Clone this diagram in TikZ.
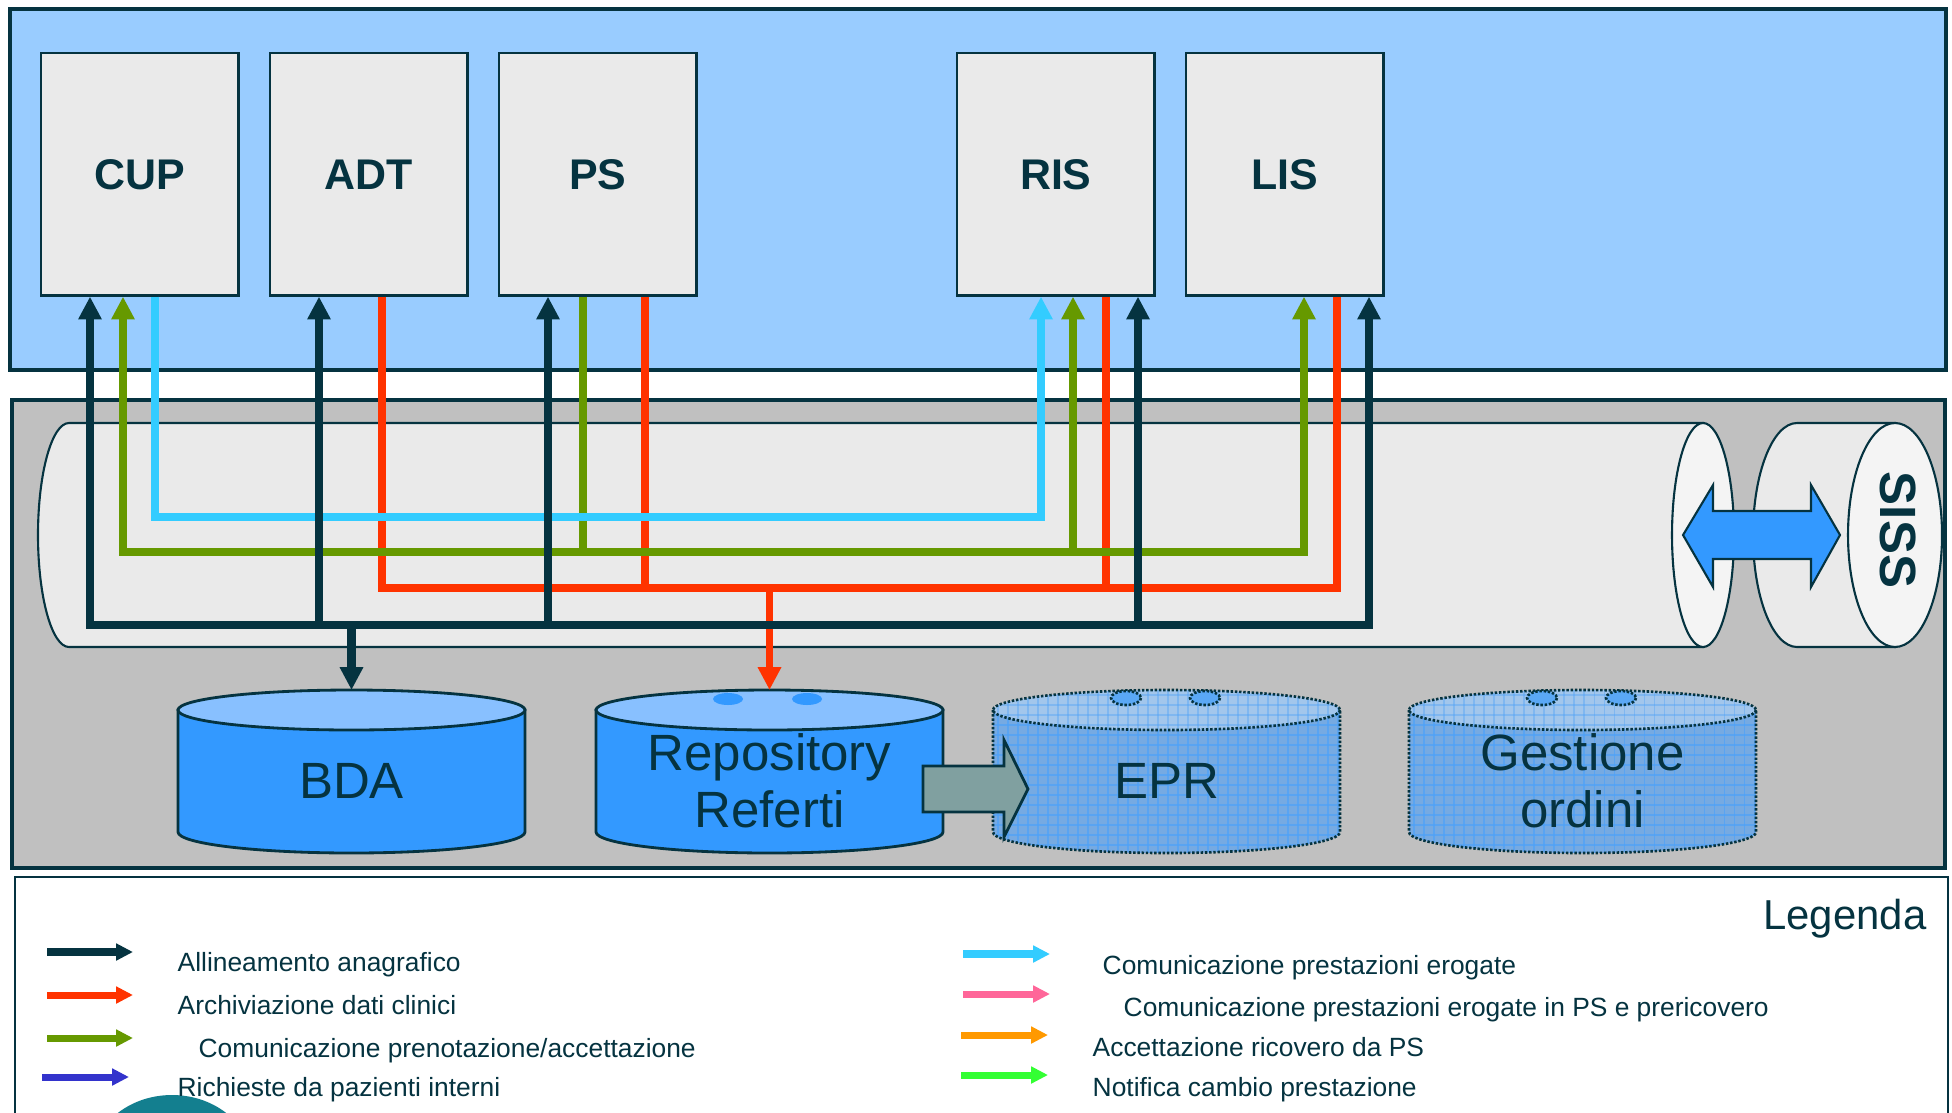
\documentclass[tikz,border=0pt]{standalone}
\usepackage{fontspec}
\setmainfont{Liberation Sans}
\usetikzlibrary{arrows.meta,calc}

\definecolor{ink}{HTML}{053340}
\definecolor{panelblue}{HTML}{99CCFF}
\definecolor{boxgray}{HTML}{EAEAEA}
\definecolor{panelgray}{HTML}{C0C0C0}
\definecolor{pipeface}{HTML}{F4F4F4}
\definecolor{lgreen}{HTML}{669900}
\definecolor{lcyan}{HTML}{33CCFF}
\definecolor{lred}{HTML}{FF3300}
\definecolor{dbbody}{HTML}{3399FF}
\definecolor{dbtop}{HTML}{88C0FF}
\definecolor{gridbase}{HTML}{76AAE2}
\definecolor{gridtop}{HTML}{A2C6EC}
\definecolor{gridline}{HTML}{4FA2F8}
\definecolor{dotfill}{HTML}{5AA8F5}
\definecolor{flowarrow}{HTML}{80A0A0}
\definecolor{lblue}{HTML}{3333CC}
\definecolor{lpink}{HTML}{FF6699}
\definecolor{lorange}{HTML}{FF9900}
\definecolor{llime}{HTML}{33FF33}
\definecolor{blob}{HTML}{137F8F}

\tikzset{
  sysbox/.style={draw=ink, line width=0.7pt, fill=boxgray, anchor=north west,
    minimum width=1.97cm, minimum height=2.42cm, inner sep=0pt, text=ink,
    font=\fontsize{12.2}{14}\selectfont\bfseries},
  tip/.style={-{Triangle[length=6.5pt,width=6.3pt]}},
  tips/.style={{Triangle[length=6.5pt,width=6.3pt]}-{Triangle[length=6.5pt,width=6.3pt]}},
  wk/.style={draw=ink, line width=2.4pt, line join=miter},
  wr/.style={draw=lred, line width=2.1pt, line join=miter},
  wg/.style={draw=lgreen, line width=2.1pt, line join=miter},
  wb/.style={draw=lcyan, line width=2.1pt, line join=miter},
  outline/.style={draw=ink, line width=0.6pt},
  dotline/.style={draw=ink, line width=0.75pt, dash pattern=on 0.7pt off 0.5pt},
  gridl/.style={draw=gridline, line width=0.3pt, draw opacity=0.7},
  dblabel/.style={anchor=base, inner sep=0pt, text=ink, font=\fontsize{14.5}{17}\selectfont},
  legarrow/.style={line width=2pt, -{Triangle[length=4.8pt,width=4.6pt]}},
  legtext/.style={anchor=base west, inner sep=0pt, text=ink, font=\fontsize{7.5}{9}\selectfont},
}

% solid database cylinder, #1 = left edge
\newcommand{\cylsolid}[1]{%
  \path[draw=ink, line width=0.8pt, fill=dbbody] (#1,710) -- (#1,832)
    arc[start angle=180, end angle=0, x radius=173.5, y radius=21] -- ({#1+347},710) -- cycle;
  \path[draw=ink, line width=0.8pt, fill=dbtop] ({#1+173.5},710) ellipse[x radius=173.5, y radius=20];
}

% planned database cylinder (grid fill, dotted outline), #1 = left edge
\newcommand{\cylplanned}[1]{%
  \begin{scope}
    \clip (#1,710) -- (#1,832)
      arc[start angle=180, end angle=0, x radius=173.5, y radius=21] -- ({#1+347},710) -- cycle;
    \fill[gridbase] (#1,680) rectangle ({#1+347},860);
    \foreach \gx in {5,15,...,345} \draw[gridl] ({#1+\gx},680) -- ({#1+\gx},860);
    \foreach \gy in {695,705,...,855} \draw[gridl] (#1,\gy) -- ({#1+347},\gy);
  \end{scope}
  \begin{scope}
    \clip ({#1+173.5},710) ellipse[x radius=173.5, y radius=20];
    \fill[gridtop] (#1,685) rectangle ({#1+347},735);
    \foreach \gx in {5,15,...,345} \draw[gridl, draw opacity=0.4] ({#1+\gx},685) -- ({#1+\gx},735);
    \foreach \gy in {695,705,...,735} \draw[gridl, draw opacity=0.4] (#1,\gy) -- ({#1+347},\gy);
  \end{scope}
  \path[dotline] (#1,710) -- (#1,832)
    arc[start angle=180, end angle=0, x radius=173.5, y radius=21] -- ({#1+347},710);
  \path[dotline] ({#1+173.5},710) ellipse[x radius=173.5, y radius=20];
  \path[dotline, fill=dotfill] ({#1+133},698) ellipse[x radius=15, y radius=7];
  \path[dotline, fill=dotfill] ({#1+212},698) ellipse[x radius=15, y radius=7];
}

\begin{document}
\begin{tikzpicture}[x=0.01cm, y=-0.01cm]
\useasboundingbox (0,0) rectangle (1952,1112);
\clip (0,0) rectangle (1952,1112);
\fill[white] (0,0) rectangle (1952,1112);

% layers
\path[draw=ink, line width=0.9pt, fill=panelblue] (10,9) rectangle (1946,370);
\path[draw=ink, line width=0.9pt, fill=panelgray] (12,400) rectangle (1945,868);
\path[draw=ink, line width=0.7pt, fill=white] (15,1140) -- (15,877) -- (1948,877) -- (1948,1140);

% integration pipe
\path[outline, fill=boxgray] (1703,423) -- (69,423)
  arc[start angle=-90, end angle=-270, x radius=31, y radius=112] -- (1703,647) -- cycle;
\path[outline, fill=pipeface] (1703,535) ellipse[x radius=31, y radius=112];

% SISS disc
\path[outline, fill=boxgray] (1895,423) -- (1797,423)
  arc[start angle=-90, end angle=-270, x radius=44, y radius=112] -- (1895,647) -- cycle;
\path[outline, fill=pipeface] (1895,535) ellipse[x radius=47, y radius=112];
\node[rotate=-90, inner sep=0pt, text=ink, font=\fontsize{14.5}{17}\selectfont\bfseries] (siss) at (1898,530) {SISS};

% exchange with SISS
\path[outline, fill=dbbody] (1683,535) -- (1713,485) -- (1713,511) -- (1811,511) -- (1811,485)
  -- (1840,535) -- (1811,587) -- (1811,559) -- (1713,559) -- (1713,587) -- cycle;

% databases
\cylsolid{178}
\cylsolid{596}
\fill[dbbody] (728,699) ellipse[x radius=15, y radius=6];
\fill[dbbody] (807,699) ellipse[x radius=15, y radius=6];
\cylplanned{993}
\cylplanned{1409}

\node[dblabel] (bda) at (351.5,798) {BDA};
\node[dblabel] (rep) at (769.5,770) {Repository};
\node[dblabel] (rep2) at (769.5,827) {Referti};
\node[dblabel] (epr) at (1166.5,798) {EPR};
\node[dblabel] (ges) at (1582.5,770) {Gestione};
\node[dblabel] (ges2) at (1582.5,827) {ordini};

% feed from repository to EPR
\path[draw=ink, line width=0.8pt, fill=flowarrow] (923,766) -- (1004,766) -- (1004,740) -- (1028,789)
  -- (1004,837) -- (1004,812) -- (923,812) -- cycle;

% systems
\node[sysbox] (cup) at (40,52) {CUP};
\node[sysbox] (adt) at (269,52) {ADT};
\node[sysbox] (ps)  at (498,52) {PS};
\node[sysbox] (ris) at (956,52) {RIS};
\node[sysbox] (lis) at (1185,52) {LIS};

% ports on the systems
\coordinate (cupK) at ($(cup.south west)+(50,0)$);
\coordinate (cupG) at ($(cup.south west)+(83,0)$);
\coordinate (cupB) at ($(cup.south west)+(115,0)$);
\coordinate (adtK) at ($(adt.south west)+(50,0)$);
\coordinate (adtR) at ($(adt.south west)+(113,0)$);
\coordinate (psK)  at ($(ps.south west)+(50,0)$);
\coordinate (psG)  at ($(ps.south west)+(85,0)$);
\coordinate (psR)  at ($(ps.south west)+(147,0)$);
\coordinate (risB) at ($(ris.south west)+(85,0)$);
\coordinate (risG) at ($(ris.south west)+(117,0)$);
\coordinate (risR) at ($(ris.south west)+(150,0)$);
\coordinate (risK) at ($(ris.south west)+(182,0)$);
\coordinate (lisG) at ($(lis.south west)+(119,0)$);
\coordinate (lisR) at ($(lis.south west)+(152,0)$);
\coordinate (lisK) at ($(lis.south west)+(184,0)$);
\coordinate (bdaTop) at (351.5,690);
\coordinate (repTop) at (769.5,690);

% bus levels
\coordinate (busB) at (0,517);
\coordinate (busG) at (0,552);
\coordinate (busR) at (0,588);
\coordinate (busK) at (0,625);

% archiviazione dati clinici
\draw[wr] (adtR) -- (adtR |- busR) -- (lisR |- busR) -- (lisR);
\draw[wr] (psR) -- (psR |- busR);
\draw[wr] (risR) -- (risR |- busR);
\draw[wr, tip] (repTop |- busR) -- (repTop);

% comunicazione prenotazione/accettazione
\draw[wg, tips] (cupG) -- (cupG |- busG) -- (lisG |- busG) -- (lisG);
\draw[wg] (psG) -- (psG |- busG);
\draw[wg, tip] (risG |- busG) -- (risG);

% comunicazione prestazioni erogate
\draw[wb, tip] (cupB) -- (cupB |- busB) -- (risB |- busB) -- (risB);

% allineamento anagrafico
\draw[wk, tips] (cupK) -- (cupK |- busK) -- (lisK |- busK) -- (lisK);
\draw[wk, tip] (adtK |- busK) -- (adtK);
\draw[wk, tip] (psK |- busK) -- (psK);
\draw[wk, tip] (risK |- busK) -- (risK);
\draw[wk, tip] (bdaTop |- busK) -- (bdaTop);

% legend
\fill[blob] (172,1163) ellipse[x radius=80, y radius=68];
\node[anchor=base east, inner sep=0pt, text=ink, font=\fontsize{11.9}{14}\selectfont] (legtitle) at (1927,929) {Legenda};

\draw[legarrow, ink]    (47,952)  -- (133,952);
\draw[legarrow, lred]   (47,995)  -- (133,995);
\draw[legarrow, lgreen] (47,1038) -- (133,1038);
\draw[legarrow, lblue]  (42,1077) -- (129,1077);
\node[legtext] at (177,971)  {Allineamento anagrafico};
\node[legtext] at (177,1014) {Archiviazione dati clinici};
\node[legtext] at (198,1057) {Comunicazione prenotazione/accettazione};
\node[legtext] at (177,1096) {Richieste da pazienti interni};

\draw[legarrow, lcyan]   (963,954)  -- (1050,954);
\draw[legarrow, lpink]   (963,994)  -- (1050,994);
\draw[legarrow, lorange] (961,1035) -- (1048,1035);
\draw[legarrow, llime]   (961,1075) -- (1048,1075);
\node[legtext] at (1102,974)  {Comunicazione prestazioni erogate};
\node[legtext] at (1123,1016) {Comunicazione prestazioni erogate in PS e prericovero};
\node[legtext] at (1092,1056) {Accettazione ricovero da PS};
\node[legtext] at (1092,1096) {Notifica cambio prestazione};
\end{tikzpicture}
\end{document}
